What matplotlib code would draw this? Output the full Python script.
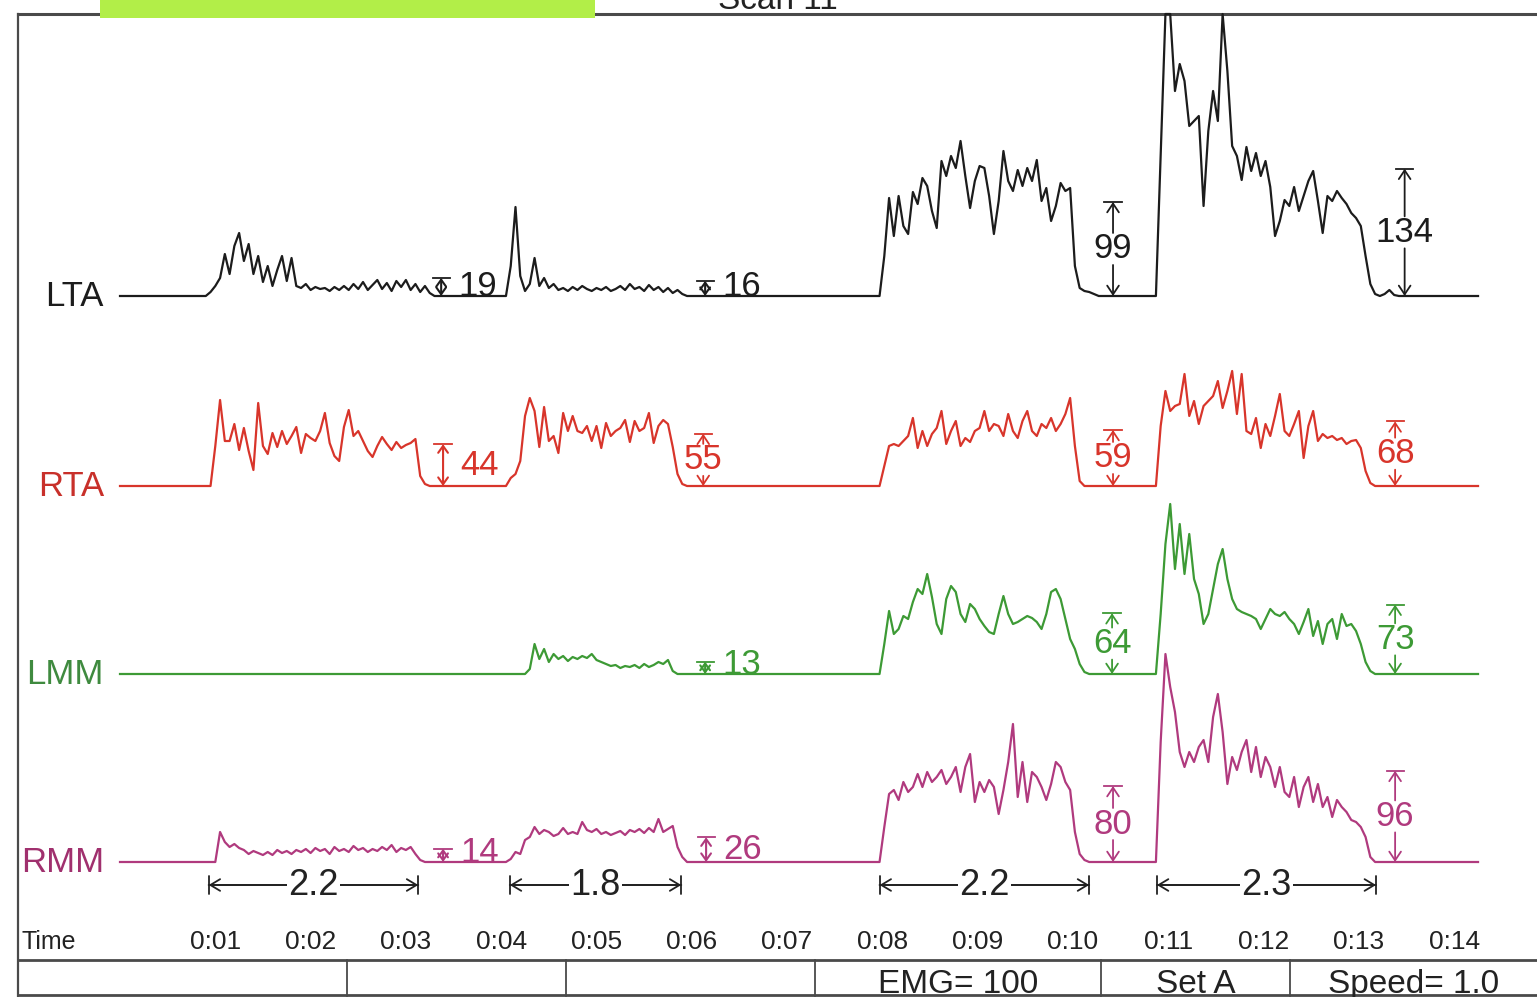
import matplotlib.pyplot as plt
from matplotlib.patches import Rectangle

plt.rcParams['font.family'] = ['Liberation Sans', 'DejaVu Sans']

# ---------------- data read from the recording ----------------
channels = ['LTA', 'RTA', 'LMM', 'RMM']
trace_colors = ['#1c1c1c', '#d8352b', '#3d9a35', '#b03a7e']
label_colors = ['#1c1c1c', '#c8302a', '#3f8a3f', '#a0306e']

dt = 0.05        # seconds between samples inside a burst
t_end = 14.25    # end of the recording (s)

# bursts: (start time in s, amplitudes every dt)
lta_bursts = [
    (0.90, [0, 4, 10, 18, 42, 22, 50, 63, 35, 52, 22, 40, 14, 30, 10, 26, 40, 15, 38, 10,
            8, 12, 6, 9, 7, 8, 5, 9, 6, 10, 6, 12, 7, 14, 6, 11, 16, 7, 13, 5,
            15, 9, 16, 6, 12, 4, 10, 3, 0]),
    (4.05, [0, 30, 89, 20, 5, 12, 38, 10, 18, 8, 12, 6, 8, 5, 9, 6, 10, 7, 5, 8,
            6, 9, 5, 7, 10, 6, 12, 7, 9, 5, 11, 6, 9, 4, 8, 3, 6, 2, 0]),
    (7.97, [0, 40, 98, 60, 100, 70, 62, 104, 92, 118, 110, 85, 68, 135, 120, 140, 128, 155,
            120, 88, 115, 130, 128, 100, 62, 95, 145, 115, 105, 126, 110, 128, 115, 136,
            95, 108, 75, 90, 113, 105, 108, 30, 8, 5, 4, 2, 0]),
    (10.87, [0, 140, 282, 282, 205, 232, 215, 170, 175, 180, 90, 165, 205, 175, 282, 225,
             150, 140, 116, 149, 125, 143, 120, 135, 109, 60, 75, 96, 90, 109, 85, 100,
             115, 125, 95, 63, 100, 95, 105, 98, 92, 83, 78, 70, 40, 12, 2, 0, 2, 6, 1, 0]),
]
rta_bursts = [
    (0.95, [0, 40, 86, 45, 45, 62, 36, 58, 35, 16, 83, 40, 32, 53, 39, 55, 42, 50, 59, 33,
            52, 48, 45, 55, 73, 43, 30, 25, 59, 76, 50, 55, 45, 35, 29, 40, 49, 42, 36, 44,
            38, 41, 43, 47, 10, 2, 0]),
    (4.05, [0, 8, 12, 25, 70, 88, 75, 39, 79, 45, 50, 33, 73, 55, 70, 55, 53, 60, 45, 60,
            38, 63, 50, 55, 58, 66, 44, 65, 55, 58, 73, 43, 60, 66, 62, 39, 12, 2, 0]),
    (7.97, [0, 20, 40, 42, 40, 45, 50, 68, 38, 55, 40, 52, 58, 75, 42, 55, 65, 40, 48, 44,
            55, 58, 75, 55, 62, 60, 50, 72, 55, 48, 65, 75, 55, 50, 62, 58, 68, 55, 62, 72,
            88, 40, 5, 0]),
    (10.87, [0, 60, 95, 75, 80, 82, 112, 70, 85, 62, 80, 85, 90, 105, 78, 95, 115, 72, 112,
             55, 52, 68, 38, 62, 50, 70, 92, 55, 50, 62, 75, 28, 60, 75, 45, 52, 48, 50, 46,
             48, 42, 45, 46, 38, 15, 3, 0]),
]
lmm_bursts = [
    (4.25, [0, 5, 30, 15, 25, 12, 20, 15, 18, 13, 17, 15, 18, 16, 20, 14, 12, 10, 8, 9,
            6, 8, 7, 9, 6, 10, 7, 9, 12, 10, 14, 3, 0]),
    (7.97, [0, 30, 63, 40, 45, 58, 55, 72, 85, 80, 100, 77, 50, 40, 75, 88, 82, 60, 52, 70,
            65, 55, 48, 42, 40, 60, 78, 60, 50, 52, 55, 58, 56, 52, 45, 60, 82, 85, 75, 55,
            35, 25, 10, 2, 0]),
    (10.87, [0, 60, 130, 170, 105, 150, 100, 140, 95, 80, 50, 60, 85, 110, 125, 95, 75, 65,
             62, 60, 58, 55, 45, 55, 65, 60, 58, 62, 55, 50, 40, 52, 65, 38, 53, 30, 50, 55,
             35, 60, 48, 50, 43, 30, 12, 3, 0]),
]
rmm_bursts = [
    (1.00, [0, 30, 20, 15, 18, 14, 12, 8, 11, 9, 7, 10, 7, 12, 9, 11, 8, 12, 10, 13,
            9, 14, 11, 13, 8, 15, 11, 13, 10, 16, 12, 14, 10, 13, 11, 15, 12, 17, 10, 14,
            12, 15, 8, 2, 0]),
    (4.05, [0, 3, 10, 8, 22, 25, 35, 28, 32, 30, 26, 28, 34, 28, 30, 28, 40, 32, 30, 33,
            28, 30, 27, 29, 31, 27, 32, 30, 33, 29, 34, 30, 43, 30, 33, 36, 15, 5, 0]),
    (7.97, [0, 35, 68, 72, 62, 80, 70, 75, 88, 75, 90, 80, 85, 92, 78, 85, 95, 70, 95, 108,
            60, 80, 70, 82, 75, 48, 72, 100, 138, 65, 100, 60, 90, 85, 75, 62, 78, 100, 95,
            80, 72, 30, 8, 2, 0]),
    (10.87, [0, 120, 208, 175, 150, 110, 95, 110, 100, 115, 122, 100, 145, 168, 130, 78,
             105, 92, 110, 122, 90, 115, 85, 105, 95, 75, 95, 70, 65, 85, 55, 75, 85, 60,
             78, 55, 65, 45, 62, 55, 50, 42, 40, 35, 25, 5, 0]),
]
bursts = [lta_bursts, rta_bursts, lmm_bursts, rmm_bursts]

# peak-to-baseline markers: (time s, value, where the number sits)
lta_marks = [(3.37, 19, 'right'), (6.14, 16, 'right'), (10.42, 99, 'in'), (13.48, 134, 'in')]
rta_marks = [(3.39, 44, 'right'), (6.12, 55, 'in'), (10.42, 59, 'in'), (13.38, 68, 'in')]
lmm_marks = [(6.14, 13, 'right'), (10.41, 64, 'in'), (13.38, 73, 'in')]
rmm_marks = [(3.39, 14, 'right'), (6.15, 26, 'right'), (10.42, 80, 'in'), (13.38, 96, 'in')]
marks = [lta_marks, rta_marks, lmm_marks, rmm_marks]

# burst durations (start s, duration s)
dur_starts = [0.93, 4.09, 7.97, 10.88]
dur_values = [2.2, 1.8, 2.2, 2.3]

time_ticks = list(range(1, 15))
time_labels = ['0:%02d' % s for s in time_ticks]

footer_texts = ['EMG= 100', 'Set A', 'Speed= 1.0']

# ---------------- layout (screen pixels) ----------------
W, H = 1537, 997
X0 = 120          # pixel of t = 0
PX_S = 95.3       # pixels per second
GAIN = 0.95       # pixels per unit of amplitude
baseline_px = [296, 486, 674, 862]
cells_px = [347, 566, 815, 1101, 1290]
frame_c = '#4a4a4a'


def tx(px):
    return (px - X0) / PX_S


def ty(py):
    return H - py


fig = plt.figure(figsize=(W / 100, H / 100), dpi=100)
ax = fig.add_axes([0, 0, 1, 1])
ax.set_xlim(tx(0), tx(W))
ax.set_ylim(0, H)
ax.axis('off')

# frame
ax.plot([tx(18), tx(W)], [ty(14), ty(14)], color=frame_c, lw=2.2)
ax.plot([tx(18), tx(18)], [ty(14), ty(996)], color=frame_c, lw=1.6)
ax.plot([tx(18), tx(W)], [ty(960), ty(960)], color=frame_c, lw=2.0)
ax.plot([tx(18), tx(W)], [ty(995), ty(995)], color=frame_c, lw=2.0)
for c in cells_px:
    ax.plot([tx(c), tx(c)], [ty(960), ty(996)], color=frame_c, lw=1.3)
ax.add_patch(Rectangle((tx(100), ty(18)), tx(595) - tx(100), 30,
                       facecolor='#b2ee48', edgecolor='none', zorder=5))
# title only partly visible at the top edge, as in the scan
ax.text(tx(778), ty(9), 'Scan 11', ha='center', va='baseline', fontsize=24, color='#222')

# traces
for i, name in enumerate(channels):
    base = ty(baseline_px[i])
    ts, vs = [0.0], [0.0]
    for t0, vals in bursts[i]:
        for k, v in enumerate(vals):
            ts.append(t0 + k * dt)
            vs.append(v)
    ts.append(t_end)
    vs.append(0.0)
    ax.plot(ts, [base + v for v in vs], color=trace_colors[i], lw=1.6, zorder=3)
    ax.text(tx(104), base, name, ha='right', va='center', fontsize=25, color=label_colors[i])

    # amplitude markers
    for t, val, where in marks[i]:
        col = trace_colors[i]
        h = val * GAIN
        top = base + h
        ax.plot([t - 0.09, t + 0.09], [top, top], color=col, lw=1.3, zorder=4)
        if where == 'right':
            ax.annotate('', xy=(t, top), xytext=(t, base),
                        arrowprops=dict(arrowstyle='<->,head_length=0.35,head_width=0.25',
                                        color=col, lw=1.5, shrinkA=0, shrinkB=0,
                                        mutation_scale=14))
            ax.text(t + 0.18, base + max(h / 2, 10), str(val), ha='left', va='center',
                    fontsize=25, color=col)
        else:
            mid = base + h / 2
            ax.text(t, mid, str(val), ha='center', va='center', fontsize=25, color=col)
            ax.annotate('', xy=(t, top), xytext=(t, min(mid + 16, top - 5)),
                        arrowprops=dict(arrowstyle='->,head_length=0.45,head_width=0.3',
                                        color=col, lw=1.3, shrinkA=0, shrinkB=0,
                                        mutation_scale=14))
            ax.annotate('', xy=(t, base), xytext=(t, max(mid - 16, base + 5)),
                        arrowprops=dict(arrowstyle='->,head_length=0.45,head_width=0.3',
                                        color=col, lw=1.3, shrinkA=0, shrinkB=0,
                                        mutation_scale=14))

# duration arrows under RMM
y_dur = ty(885)
for t0, d in zip(dur_starts, dur_values):
    ax.annotate('', xy=(t0, y_dur), xytext=(t0 + d, y_dur),
                arrowprops=dict(arrowstyle='<->,head_length=0.5,head_width=0.3',
                                color='#222', lw=1.3, shrinkA=0, shrinkB=0, mutation_scale=14))
    ax.annotate('', xy=(t0, y_dur), xytext=(t0 + d, y_dur),
                arrowprops=dict(arrowstyle='|-|,widthA=0.45,widthB=0.45',
                                color='#222', lw=1.3, shrinkA=0, shrinkB=0, mutation_scale=14))
    ax.text(t0 + d / 2, y_dur, str(d), ha='center', va='center', fontsize=26, color='#222',
            bbox=dict(facecolor='white', edgecolor='none', pad=1))

# time row
ax.text(tx(22), ty(942), 'Time', ha='left', va='center', fontsize=18, color='#222')
for s, lab in zip(time_ticks, time_labels):
    ax.text(s, ty(942), lab, ha='center', va='center', fontsize=19, color='#222')

# footer cells
edges = cells_px[2:] + [W]
for k, txt in enumerate(footer_texts):
    xc = (edges[k] + edges[k + 1]) / 2
    ax.text(tx(xc), ty(993), txt, ha='center', va='baseline', fontsize=24, color='#222')

fig.savefig('out.png', dpi=100, facecolor='white')
